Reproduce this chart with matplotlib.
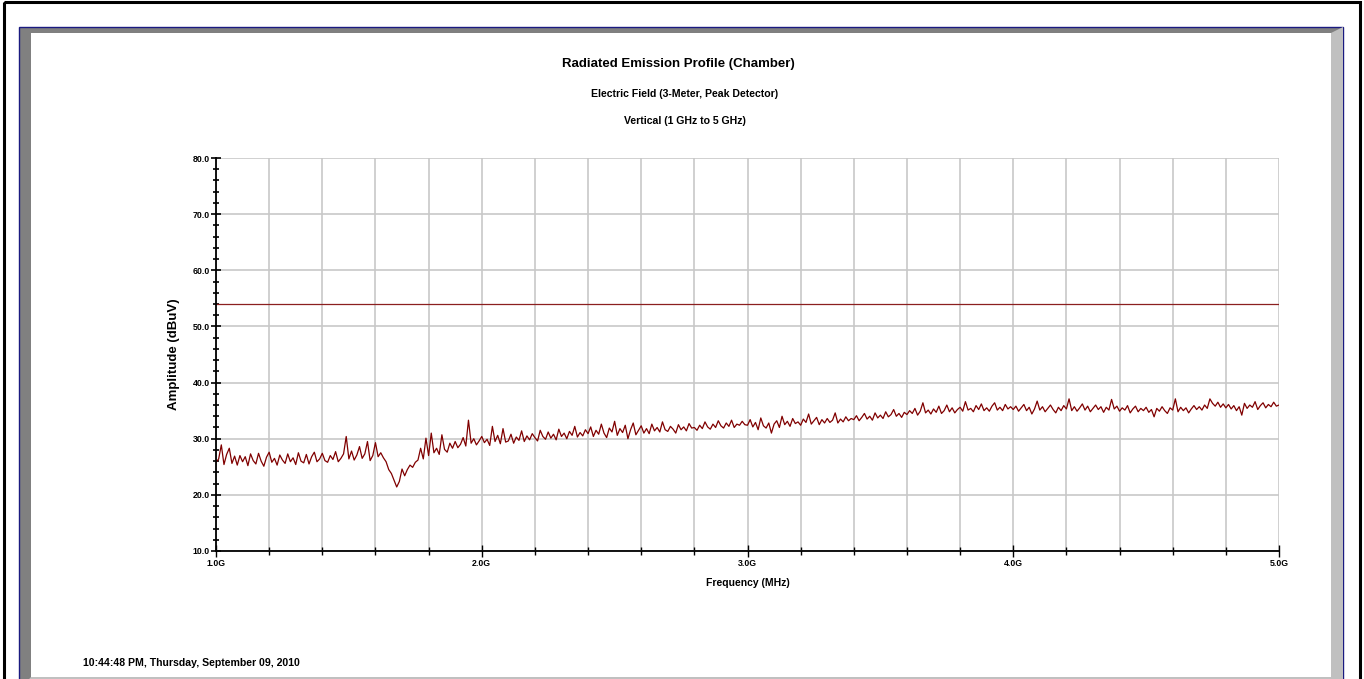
import numpy as np
import matplotlib
matplotlib.use('Agg')
import matplotlib.pyplot as plt
from matplotlib.patches import Polygon

## data (GHz / dBuV)
freq_ghz = np.round(np.arange(1.00, 5.001, 0.01), 2)

amp_dbuv = [
    25.8, 26.4, 28.9, 25.4, 27.2, 28.3, 25.6, 26.9, 25.3, 27.0,
    25.9, 26.8, 25.2, 27.3, 26.1, 25.5, 27.4, 26.0, 25.1, 26.7,
    27.6, 25.8, 26.5, 25.3, 27.1, 26.2, 25.6, 27.3, 25.9, 26.6,
    25.4, 27.5, 26.0, 25.7, 27.2, 25.5, 26.8, 27.6, 25.9, 26.4,
    27.4, 26.1, 25.8, 27.0, 26.3, 27.7, 25.9, 26.5, 27.3, 30.4,
    26.4, 27.8, 26.2, 27.1, 28.6, 26.5, 27.3, 29.5, 26.1, 27.0,
    29.3, 26.8, 27.5, 26.6, 25.9, 24.5, 23.8, 22.6, 21.4, 22.4,
    24.6, 23.4, 24.5, 25.3, 24.9, 25.8, 26.2, 28.3, 26.4, 30.1,
    27.0, 31.0, 27.5, 28.3, 27.2, 30.7, 28.1, 27.6, 29.2, 28.3,
    29.5, 28.4, 29.0, 30.2, 28.7, 33.3, 29.2, 30.0, 28.9, 29.6,
    30.4, 29.3, 29.9, 28.8, 32.2, 29.5, 30.6, 29.1, 31.8, 29.4,
    29.6, 30.8, 29.2, 30.3, 29.7, 31.4, 29.5, 30.5, 29.8, 30.9,
    30.2, 29.6, 31.5, 30.4, 29.9, 31.2, 30.1, 30.8, 29.8, 31.7,
    30.4, 31.0, 30.0, 31.3, 30.6, 32.2, 30.3, 31.1, 30.5, 31.6,
    30.9, 32.1, 30.4, 31.5, 30.8, 32.6, 31.0, 30.2, 31.9, 31.2,
    33.1, 30.6, 31.8, 31.1, 32.4, 30.0, 31.6, 32.8, 30.7, 31.5,
    32.3, 31.0, 31.8, 30.9, 32.6, 31.4, 32.0, 31.2, 33.0, 31.6,
    31.3, 32.2, 31.7, 31.0, 32.5, 31.6, 32.1, 31.4, 32.7, 31.9,
    32.0, 31.5, 32.4, 31.8, 33.0, 32.1, 31.7, 32.6, 32.0, 33.2,
    32.3, 31.9, 32.8, 32.2, 33.3, 32.0, 32.6, 32.4, 33.1, 32.5,
    32.4, 33.4, 32.1, 32.9, 31.6, 33.7, 32.3, 31.9, 32.8, 31.0,
    32.6, 33.2, 32.0, 34.0, 32.5, 33.1, 32.2, 33.6, 32.7, 33.0,
    32.4, 33.5, 32.9, 34.4, 32.6, 33.2, 33.8, 32.5, 33.4, 32.8,
    33.6, 32.9, 33.3, 34.6, 32.8, 33.5, 33.0, 33.9, 33.2, 33.6,
    33.4, 34.1, 33.2, 33.8, 34.5, 33.5, 34.0, 33.3, 34.6, 33.7,
    34.2, 33.6, 34.8, 33.9, 34.3, 35.2, 34.0, 34.5, 33.8, 34.7,
    34.3, 35.0, 34.5, 35.4, 34.2, 34.9, 36.4, 34.6, 35.1, 34.4,
    35.3, 34.7, 35.8, 34.5, 35.0, 36.0, 34.8, 35.5, 34.6, 35.2,
    35.6, 34.9, 36.6, 35.1, 35.4, 34.8, 35.9, 35.2, 36.2, 35.0,
    35.5, 34.9, 35.8, 36.4, 35.1, 35.6, 35.0, 36.1, 35.3, 35.7,
    35.2, 35.8, 34.9, 35.5, 36.1, 35.0, 35.6, 34.4, 35.3, 36.7,
    35.1, 35.7, 34.8, 35.4, 36.0, 35.2, 34.6, 35.6, 35.0, 35.9,
    35.3, 37.1, 35.0, 35.7, 34.9, 35.5, 36.2, 35.1, 35.8, 34.8,
    35.4, 36.0, 35.2, 35.7, 34.7, 35.6, 35.1, 37.0, 35.3, 35.8,
    34.9, 35.5, 35.1, 35.9, 34.6, 35.3, 35.8, 34.8, 35.4, 35.0,
    35.6, 34.7, 35.2, 33.9, 35.4, 34.9, 35.7, 35.0, 34.5, 35.5,
    35.1, 37.1, 34.8, 35.6, 35.0, 35.5, 34.6, 35.3, 35.9, 35.2,
    35.7, 35.1, 36.0, 35.4, 37.1, 36.3, 35.8, 36.5, 35.6, 36.2,
    35.5, 36.1, 35.3, 35.9, 35.0, 35.7, 34.2, 36.3, 35.4, 36.0,
    35.6, 36.6, 35.2, 35.9, 36.4, 35.5, 36.1, 35.7, 36.5, 35.8,
    36.0,
]

limit_dbuv = 54.0
x_ticks = [1.0, 2.0, 3.0, 4.0, 5.0]
x_ticklabels = ['1.0G', '2.0G', '3.0G', '4.0G', '5.0G']
y_ticks = [10, 20, 30, 40, 50, 60, 70, 80]

title = 'Radiated Emission Profile (Chamber)'
subtitle1 = 'Electric Field (3-Meter, Peak Detector)'
subtitle2 = 'Vertical (1 GHz to 5 GHz)'
stamp = '10:44:48 PM, Thursday, September 09, 2010'

W, H = 1364, 679
plt.rcParams['font.family'] = ['Liberation Sans Narrow', 'Liberation Sans', 'DejaVu Sans']

fig = plt.figure(figsize=(W / 100, H / 100), dpi=100)
fig.patch.set_facecolor('white')


def px(x, y):
    # pixel (depuis le coin haut gauche) -> fraction de figure
    return (x / W, 1 - y / H)


def cadre(pts, **kw):
    fig.add_artist(Polygon([px(*p) for p in pts], closed=True, zorder=-5,
                           transform=fig.transFigure, **kw))


## cadre façon fenêtre windows
cadre([(4, 2), (1360, 2), (1360, 690), (4, 690)], fill=False, edgecolor='black', linewidth=2.2)
cadre([(18.5, 26.5), (1343, 26.5), (1343, 690), (18.5, 690)],
      facecolor='#808080', edgecolor='#1a1a80', linewidth=1.0)
# bords clairs droite / bas
cadre([(1342.5, 27), (1342.5, 690), (1331, 690), (1331, 33)], facecolor='#c0c0c0', edgecolor='none')
cadre([(31, 677), (1331, 677), (1342.5, 690), (19, 690)], facecolor='#c0c0c0', edgecolor='none')
cadre([(31, 33), (1331, 33), (1331, 677), (31, 677)], facecolor='white', edgecolor='none')

## axes
ax = fig.add_axes([216 / W, 1 - 551 / H, (1279 - 216) / W, (551 - 158) / H])
ax.set_facecolor('white')
ax.set_zorder(2)

ax.plot(freq_ghz, amp_dbuv, color='#800000', linewidth=0.9, zorder=3)
ax.axhline(limit_dbuv, color='#8b1f1f', linewidth=0.9, zorder=3)

ax.set_xlim(1.0, 5.0)
ax.set_ylim(10, 80)
ax.set_xticks(x_ticks)
ax.set_xticklabels(x_ticklabels)
ax.set_xticks(np.arange(1.0, 5.01, 0.2), minor=True)
ax.set_yticks(y_ticks)
ax.set_yticklabels(['%.1f' % v for v in y_ticks])
ax.set_yticks(np.arange(10, 81, 2), minor=True)

ax.grid(True, which='minor', axis='x', color='#c8c8c8', linewidth=1.2)
ax.grid(True, which='major', axis='both', color='#c8c8c8', linewidth=1.2)
ax.set_axisbelow(True)

for s in ['top', 'right']:
    ax.spines[s].set_visible(False)
for s in ['left', 'bottom']:
    ax.spines[s].set_color('black')
    ax.spines[s].set_linewidth(1.3)
    ax.spines[s].set_zorder(4)

ax.tick_params(axis='y', which='major', direction='inout', length=7, width=1.2, pad=1,
               labelsize=6.3, colors='black')
ax.tick_params(axis='y', which='minor', direction='inout', length=5, width=1.2)
ax.tick_params(axis='x', which='major', direction='inout', length=8, width=1.0, pad=2,
               labelsize=6.3)
ax.tick_params(axis='x', which='minor', direction='inout', length=6, width=1.0)
for lab in ax.get_xticklabels() + ax.get_yticklabels():
    lab.set_fontweight('bold')

ax.set_xlabel('Frequency (MHz)', fontsize=7.5, fontweight='bold', labelpad=7)
ax.set_ylabel('Amplitude (dBuV)', fontsize=9.5, fontweight='bold', labelpad=9)

## textes
fig.text(678 / W, 1 - 64 / H, title, ha='center', va='center', fontsize=9.5, fontweight='bold')
fig.text(685 / W, 1 - 94 / H, subtitle1, ha='center', va='center', fontsize=7.6, fontweight='bold')
fig.text(685 / W, 1 - 120.5 / H, subtitle2, ha='center', va='center', fontsize=7.6, fontweight='bold')
fig.text(83 / W, 1 - 663 / H, stamp, ha='left', va='center', fontsize=7.6, fontweight='bold')

fig.savefig('out.png', dpi=100)
